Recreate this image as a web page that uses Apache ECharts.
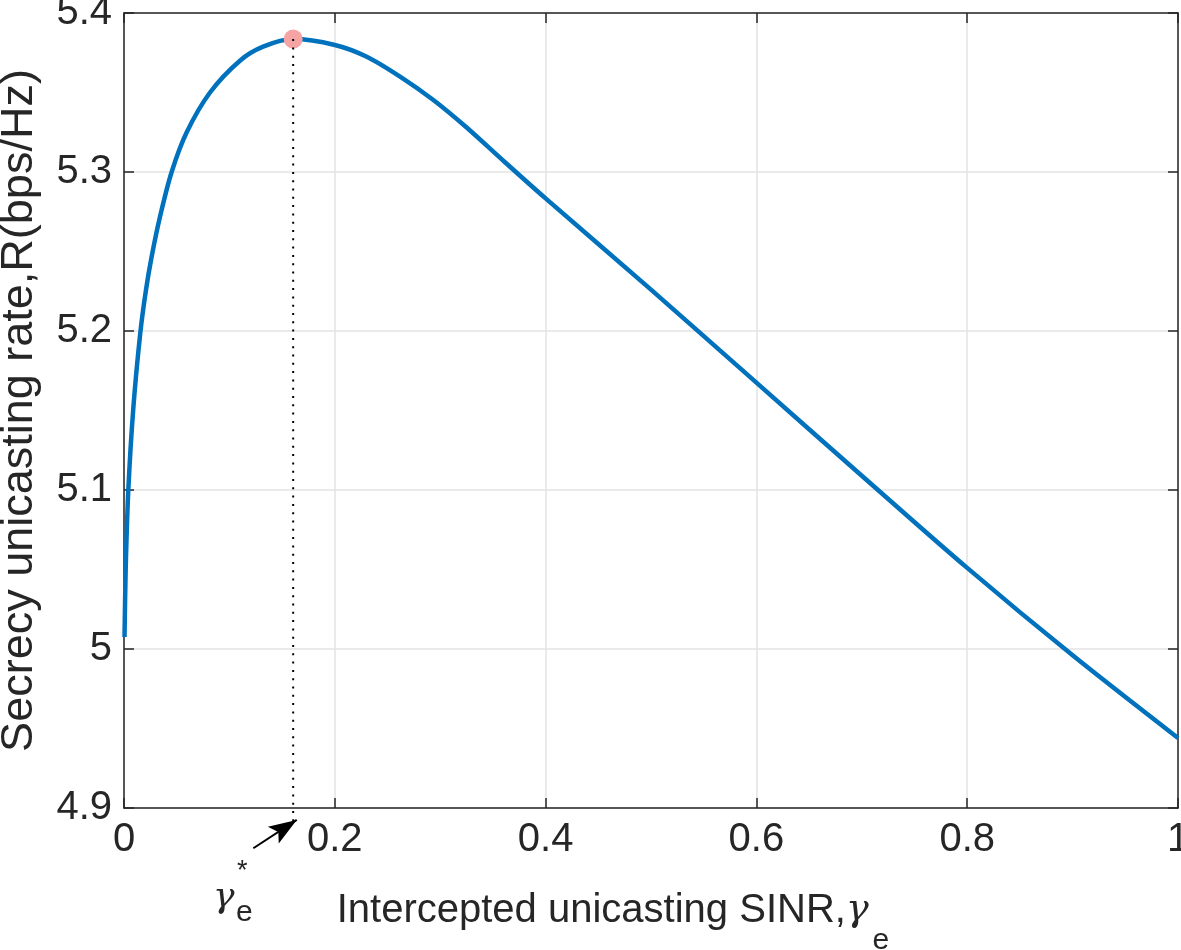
<!DOCTYPE html>
<html>
<head>
<meta charset="utf-8">
<script src="https://cdn.jsdelivr.net/npm/echarts@6/dist/echarts.min.js"></script>
<style>
html,body{margin:0;padding:0;background:#fff;}
#chart{width:1181px;height:950px;}
</style>
</head>
<body>
<div id="chart"></div>
<script>
// Intercepted unicasting SINR (x) and secrecy unicasting rate (y)
const sinrValues = [0.0005, 0.0016, 0.0041, 0.0089, 0.0155, 0.0209, 0.0263, 0.0342, 0.0452, 0.0595, 0.0816, 0.110, 0.132, 0.1605, 0.200, 0.2303, 0.2619, 0.2935, 0.3251, 0.3567, 0.400, 0.500, 0.600, 0.700, 0.800, 0.900, 1.000];
const rateValues = [5.0075, 5.050, 5.100, 5.152, 5.199, 5.226, 5.247, 5.272, 5.300, 5.325, 5.350, 5.3700, 5.3788, 5.3836, 5.3799, 5.3725, 5.3600, 5.3453, 5.3280, 5.3090, 5.2834, 5.2260, 5.1675, 5.1090, 5.0510, 4.9960, 4.9440];
const optimumPoint = [0.1605, 5.3836];
const xTicks = [0, 0.2, 0.4, 0.6, 0.8, 1];
const yTicks = [4.9, 5.0, 5.1, 5.2, 5.3, 5.4];
const xAxisTitle = 'Intercepted unicasting SINR,';
const yAxisTitle = 'Secrecy unicasting rate,R(bps/Hz)';
// annotation arrow (tail -> tip), in data units
const arrowTail = [0.1227, 4.8747];
const arrowTip = [0.1639, 4.8925];

const axisColor = '#262626';
const font = '"Liberation Sans", Arial, Helvetica, sans-serif';
const fmt = v => String(parseFloat(Number(v).toFixed(1)));

const chart = echarts.init(document.getElementById('chart'), null, {renderer: 'canvas'});

const baseX = {
  type: 'value', min: xTicks[0], max: xTicks[xTicks.length - 1], interval: 0.2,
  axisLine: {show: true, onZero: false, lineStyle: {color: axisColor, width: 1.5}},
  axisTick: {show: true, inside: true, length: 10, lineStyle: {color: axisColor, width: 1.5}},
  splitLine: {show: false}
};
const baseY = {
  type: 'value', min: yTicks[0], max: yTicks[yTicks.length - 1], interval: 0.1,
  axisLine: {show: true, onZero: false, lineStyle: {color: axisColor, width: 1.5}},
  axisTick: {show: true, inside: true, length: 10, lineStyle: {color: axisColor, width: 1.5}},
  splitLine: {show: false}
};

const annotationText = [
  {type: 'text', left: 213, top: 880, style: {text: '\u03B3', font: 'italic 36px "DejaVu Serif", serif', fill: axisColor}},
  {type: 'text', left: 237, top: 858, style: {text: '*', font: '27px ' + font, fill: axisColor}},
  {type: 'text', left: 236, top: 898, style: {text: 'e', font: '30px ' + font, fill: axisColor}}
];

const option = {
  backgroundColor: '#ffffff',
  animation: false,
  grid: {left: 124, right: 3, top: 13, bottom: 142, containLabel: false, outerBoundsMode: 'none'},
  xAxis: [
    Object.assign({}, baseX, {
      position: 'bottom',
      splitLine: {show: true, lineStyle: {color: '#e3e3e3', width: 1.5}},
      axisLabel: {show: true, formatter: fmt, fontSize: 40, color: axisColor, fontFamily: font, margin: 12},
      name: '{n|' + xAxisTitle + '}{g|\u03B3}{s|e}',
      nameLocation: 'middle',
      nameGap: 83,
      nameTextStyle: {
        padding: [0, 76, 0, 0],
        rich: {
          n: {fontSize: 40, fontFamily: font, color: axisColor, lineHeight: 40, verticalAlign: 'top'},
          g: {fontSize: 38, fontFamily: '"DejaVu Serif", serif', fontStyle: 'italic', color: axisColor, lineHeight: 40, verticalAlign: 'top'},
          s: {fontSize: 30, fontFamily: font, color: axisColor, verticalAlign: 'top', padding: [35, 0, 0, 4]}
        }
      }
    }),
    Object.assign({}, baseX, {position: 'top', axisLabel: {show: false}})
  ],
  yAxis: [
    Object.assign({}, baseY, {
      position: 'left',
      splitLine: {show: true, lineStyle: {color: '#e3e3e3', width: 1.5}},
      axisLabel: {show: true, formatter: fmt, fontSize: 40, color: axisColor, fontFamily: font, margin: 12},
      name: yAxisTitle,
      nameLocation: 'middle',
      nameGap: 82,
      nameTextStyle: {fontSize: 45, fontFamily: font, color: axisColor}
    }),
    Object.assign({}, baseY, {position: 'right', axisLabel: {show: false}})
  ],
  series: [
    {
      type: 'line',
      data: sinrValues.map((x, i) => [x, rateValues[i]]),
      smooth: 0.3,
      showSymbol: false,
      lineStyle: {color: '#0072BD', width: 4.5},
      z: 3
    },
    {
      type: 'scatter',
      data: [optimumPoint],
      symbol: 'circle',
      symbolSize: 19,
      itemStyle: {color: '#F5A3A3', opacity: 1},
      z: 4
    },
    {
      type: 'line',
      clip: false,
      data: [[optimumPoint[0], optimumPoint[1]], [optimumPoint[0], 4.891]],
      showSymbol: false,
      lineStyle: {color: '#000000', width: 2, type: [2, 6.3]},
      z: 5
    },
    {
      type: 'line',
      clip: false,
      data: [arrowTail, arrowTip],
      showSymbol: false,
      lineStyle: {color: '#000000', width: 2},
      z: 5
    }
  ],
  graphic: annotationText
};
chart.setOption(option);

// arrow head at the tip, positioned through the chart's own scales
const pTail = chart.convertToPixel({xAxisIndex: 0, yAxisIndex: 0}, arrowTail);
const pTip = chart.convertToPixel({xAxisIndex: 0, yAxisIndex: 0}, arrowTip);
const ang = Math.atan2(pTip[1] - pTail[1], pTip[0] - pTail[0]);
const headLen = 28, headHalf = 10, notch = 6;
const cs = Math.cos(ang), sn = Math.sin(ang);
const bx = pTip[0] - headLen * cs, by = pTip[1] - headLen * sn;
const nx = -sn, ny = cs;
const notchPt = [pTip[0] - (headLen - notch) * cs, pTip[1] - (headLen - notch) * sn];
chart.setOption({
  graphic: annotationText.concat([
    {type: 'polygon', z: 10, shape: {points: [pTip, [bx + nx * headHalf, by + ny * headHalf], notchPt, [bx - nx * headHalf, by - ny * headHalf]]}, style: {fill: '#000000'}}
  ])
}, {replaceMerge: ['graphic']});
</script>
</body>
</html>
